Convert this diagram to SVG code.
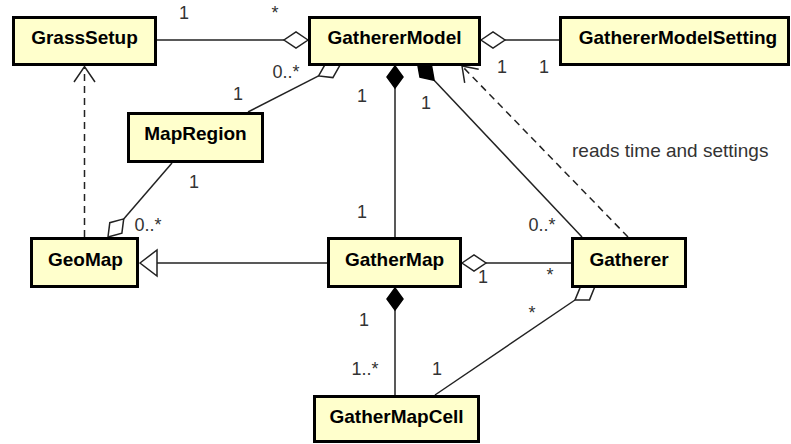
<svg xmlns="http://www.w3.org/2000/svg" width="791" height="444" viewBox="0 0 791 444">
<style>
.box{fill:#ffffcc;stroke:#000;stroke-width:3}
.name{font-family:"Liberation Sans",Arial,sans-serif;font-weight:bold;font-size:19px;fill:#000;text-anchor:middle}
.m{font-family:"Liberation Sans",Arial,sans-serif;font-size:18px;fill:#333;text-anchor:middle}
.note{font-family:"Liberation Sans",Arial,sans-serif;font-size:19px;fill:#333}
.ln{fill:none;stroke:#222;stroke-width:1.5}
.dash{fill:none;stroke:#222;stroke-width:1.5;stroke-dasharray:7 5}
.hd{fill:#fff;stroke:#222;stroke-width:1.5}
.fd{fill:#000;stroke:#000;stroke-width:1.5}
</style>
<rect width="791" height="444" fill="#fff"/>
<g id="connectors">
  <!-- GrassSetup - GathererModel -->
  <line class="ln" x1="157" y1="40" x2="284" y2="40"/>
  <polygon class="hd" points="308,40 296,32 284,40 296,48"/>
  <!-- GathererModel - GathererModelSetting -->
  <line class="ln" x1="505" y1="40" x2="559" y2="40"/>
  <polygon class="hd" points="481,40 493,32 505,40 493,48"/>
  <!-- MapRegion - GathererModel -->
  <line class="ln" x1="248" y1="112" x2="318.6" y2="75.9"/>
  <polygon class="hd" points="340,65 325.7,63.4 318.6,75.9 332.9,77.6"/>
  <!-- GathererModel - GatherMap composition -->
  <line class="ln" x1="395" y1="88" x2="395" y2="237"/>
  <polygon class="fd" points="395,66 403,77 395,88 387,77"/>
  <!-- GathererModel - Gatherer composition -->
  <line class="ln" x1="434.1" y1="80.3" x2="582" y2="237"/>
  <polygon class="fd" points="417.5,63 431.6,66.1 434.1,80.3 420,77.2"/>
  <!-- Gatherer -> GathererModel dependency -->
  <line class="dash" x1="628" y1="237" x2="462" y2="66"/>
  <polyline class="ln" points="464.7,82.8 462,66 478.7,69.2"/>
  <!-- GeoMap -> GrassSetup dependency -->
  <line class="dash" x1="84.5" y1="237" x2="84.5" y2="67"/>
  <polyline class="ln" points="74,82 84.5,66.5 95,82"/>
  <!-- MapRegion - GeoMap -->
  <line class="ln" x1="172" y1="163" x2="123.7" y2="218.9"/>
  <polygon class="hd" points="108,237 121.9,233.2 123.7,218.9 109.8,222.7"/>
  <!-- GatherMap -> GeoMap generalization -->
  <line class="ln" x1="327" y1="263" x2="157" y2="263"/>
  <polygon class="hd" points="140,263 157,250 157,276"/>
  <!-- GatherMap - Gatherer -->
  <line class="ln" x1="486" y1="263" x2="571" y2="263"/>
  <polygon class="hd" points="462,263 474,255 486,263 474,271"/>
  <!-- Gatherer - GatherMapCell -->
  <line class="ln" x1="575" y1="300" x2="435" y2="395"/>
  <polygon class="hd" points="594.9,286.5 580.5,286.6 575,300 589.5,299.9"/>
  <!-- GatherMap - GatherMapCell composition -->
  <line class="ln" x1="395" y1="310" x2="395" y2="395"/>
  <polygon class="fd" points="395,288 403,299 395,310 387,299"/>
</g>
<g id="labels">
  <text class="m" x="184" y="19">1</text>
  <text class="m" x="275" y="19">*</text>
  <text class="m" x="286" y="78">0..*</text>
  <text class="m" x="238" y="100">1</text>
  <text class="m" x="502" y="73">1</text>
  <text class="m" x="544" y="73">1</text>
  <text class="m" x="362" y="102">1</text>
  <text class="m" x="426" y="109">1</text>
  <text class="m" x="362" y="218">1</text>
  <text class="m" x="194" y="188">1</text>
  <text class="m" x="148" y="231">0..*</text>
  <text class="m" x="542" y="231">0..*</text>
  <text class="m" x="483" y="283">1</text>
  <text class="m" x="550" y="281">*</text>
  <text class="m" x="532" y="319">*</text>
  <text class="m" x="364" y="326">1</text>
  <text class="m" x="365" y="375">1..*</text>
  <text class="m" x="437" y="375">1</text>
  <text class="note" x="572" y="157">reads time and settings</text>
</g>
<g id="GrassSetup">
  <rect class="box" x="13.5" y="17.5" width="142" height="47"/>
  <text class="name" x="84.5" y="43.5">GrassSetup</text>
</g>
<g id="GathererModel">
  <rect class="box" x="309.5" y="17.5" width="170" height="47"/>
  <text class="name" x="394.5" y="43.5">GathererModel</text>
</g>
<g id="GathererModelSetting">
  <rect class="box" x="560.5" y="17.5" width="228" height="47"/>
  <text class="name" x="678" y="43.5">GathererModelSetting</text>
</g>
<g id="MapRegion">
  <rect class="box" x="128.5" y="113.5" width="134" height="48"/>
  <text class="name" x="195.5" y="139.5">MapRegion</text>
</g>
<g id="GeoMap">
  <rect class="box" x="31.5" y="238.5" width="106" height="48"/>
  <text class="name" x="85.5" y="265.5">GeoMap</text>
</g>
<g id="GatherMap">
  <rect class="box" x="328.5" y="238.5" width="132" height="48"/>
  <text class="name" x="394.5" y="265.5">GatherMap</text>
</g>
<g id="Gatherer">
  <rect class="box" x="572.5" y="238.5" width="113" height="48"/>
  <text class="name" x="629" y="265.5">Gatherer</text>
</g>
<g id="GatherMapCell">
  <rect class="box" x="314.5" y="396.5" width="164" height="45"/>
  <text class="name" x="396.5" y="423">GatherMapCell</text>
</g>
</svg>
